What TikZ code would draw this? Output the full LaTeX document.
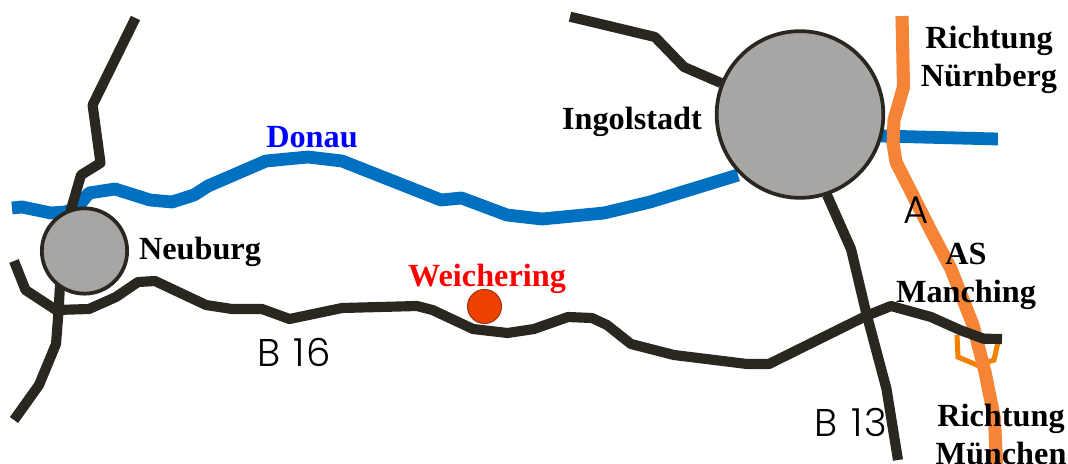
\documentclass[tikz,border=0pt]{standalone}
\usepackage{fontspec}
\setmainfont{Liberation Serif}
\newfontfamily\geo{Poppins Light}
\definecolor{roadc}{HTML}{2A2620}
\definecolor{riverc}{HTML}{0070C0}
\definecolor{autoc}{HTML}{F58436}
\definecolor{rampc}{HTML}{F08200}
\definecolor{cityc}{HTML}{A7A6A4}
\definecolor{dotc}{HTML}{EE4000}
\tikzset{
  x=0.75pt,y=-0.75pt,
  road/.style={draw=roadc,line width=7.6pt,line join=round},
  river/.style={draw=riverc,line width=9.6pt,line join=round},
  autobahn/.style={draw=autoc,line width=9.8pt,line join=round},
  ramp/.style={draw=rampc,line width=3.8pt,line join=miter},
  city/.style={circle,draw=roadc,fill=cityc,line width=2.8pt,inner sep=0pt,outer sep=0pt},
  lab/.style={font=\fontsize{24.2pt}{28.5pt}\selectfont\bfseries,inner sep=0pt,align=center},
  roadlab/.style={font=\geo\fontsize{29pt}{30pt}\selectfont,inner sep=0pt},
}
\begin{document}
\begin{tikzpicture}
\useasboundingbox (0,0) rectangle (1068,464);
% river
\draw[river] (12,208) -- (22,207) -- (51,213) -- (65,212) -- (77,208) -- (89,193) -- (115,189) -- (150,200) -- (172,202) -- (194,195) -- (208,186) -- (266,161) -- (308,157) -- (342,161) -- (441,200) -- (461.5,198) -- (507,215) -- (542,219) -- (604,213) -- (650,202) -- (738,175);
\draw[river] (881,136) -- (998,139);
% ramp and motorway
\draw[ramp] (957,335) -- (958,357) -- (977,365) -- (994,360) -- (998,342);
\draw[autobahn] (902,16) -- (903.5,87) -- (894,120) -- (893,143) -- (896,162) -- (931,231) -- (951,269) -- (973,325) -- (985,372) -- (994.5,419) -- (996.5,464);
% roads
\draw[road] (135.5,18) -- (92.6,105) -- (100.5,163) -- (81,175) -- (70,213);
\draw[road] (60,285) -- (58.5,312) -- (56,344) -- (39,385) -- (14,420);
\draw[road] (570,16.7) -- (655,37) -- (684,67) -- (721,83);
\draw[road] (827,195) -- (851,249) -- (866,312) -- (886.5,389) -- (898,460);
\draw[road] (14,261) -- (25.5,290) -- (56,310) -- (89,309) -- (116,297) -- (138,282) -- (155,281) -- (206,305) -- (232,309) -- (262,309) -- (289.5,319) -- (342,308) -- (417,306) -- (432.5,310) -- (473,329) -- (507.5,333) -- (534,329) -- (568,317) -- (592,318) -- (607,325) -- (631,344) -- (674,355) -- (747,364) -- (769,364) -- (866,316) -- (891,306) -- (931,317) -- (960,330) -- (983.5,338.7) -- (1002,339);
% places
\node[city,minimum size=64pt] (neuburg) at (84.5,251) {};
\node[city,minimum size=125pt] (ingolstadt) at (800,114.5) {};
\node[circle,draw=roadc!40!dotc,fill=dotc,line width=0.8pt,minimum size=25.5pt,inner sep=0pt] (weichering) at (484.5,306.5) {};
% labels
\node[lab,text=blue] (ldonau) at (312,137) {Donau};
\node[lab] (lingolstadt) at (632,122) {Ingolstadt};
\node[lab] (lneuburg) at (200,252) {Neuburg};
\node[lab,text=red] (lweichering) at (487,279) {Weichering};
\node[lab] (lnord) at (989,60) {Richtung\\Nürnberg};
\node[lab] (lmanching) at (966,276) {AS\\Manching};
\node[lab] (lsued) at (1001,434) {Richtung\\München};
\node[roadlab] (la) at (916,210) {A};
\node[roadlab] (lb16) at (294,352) {B\hspace{2pt} 1\hspace{1.5pt}6};
\node[roadlab] (lb13) at (851,422) {B\hspace{2pt} 1\hspace{1.5pt}3};
\end{tikzpicture}
\end{document}
